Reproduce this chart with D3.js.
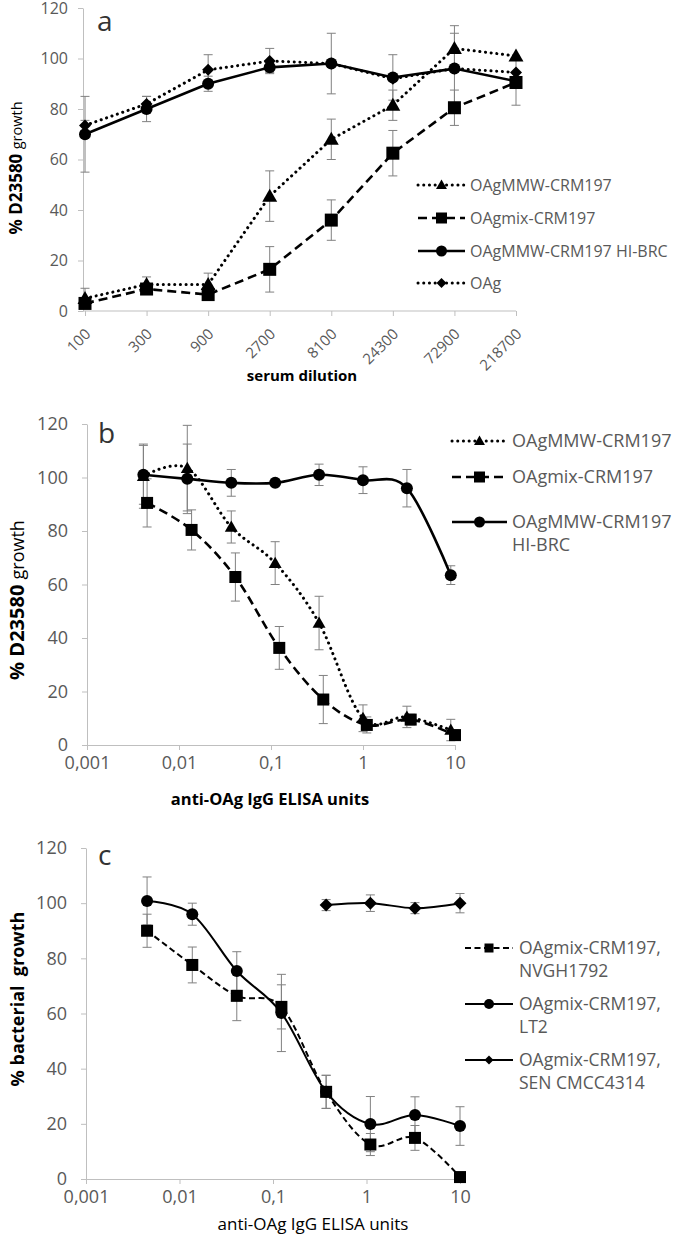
<!DOCTYPE html>
<html>
<head>
<meta charset="utf-8">
<script src="https://cdn.jsdelivr.net/npm/d3@7"></script>
<style>
  body { margin: 0; background: #fff; }
  svg { display: block; font-family: "Open Sans", sans-serif; }
</style>
</head>
<body>
<script>
// ---------- DATA ----------
// Panel a (serum dilution, categorical)
const dilutions = ["100", "300", "900", "2700", "8100", "24300", "72900", "218700"];
const aTri    = [5, 10.5, 10.5, 45.5, 68, 81.5, 104, 101];
const aTriErr = [4, 3, 4.5, 10, 8, 6, 9, 0];
const aSq     = [3, 8.7, 6.5, 16.5, 36, 62.5, 80.5, 90.5];
const aSqErr  = [2, 2, 2, 9, 8, 9, 7, 9];
const aCir    = [70, 80, 90, 96.5, 98, 92.5, 96, 91];
const aCirErr = [15, 5, 3, 2, 12, 9, 14, 0];
const aDia    = [73.5, 82, 95.5, 99, 98, 92, 96, 94.5];
const aDiaErr = [2, 3, 6, 5, 0, 0, 0, 0];

// Panel b (anti-OAg IgG ELISA units, log)
const bX      = [0.0041, 0.0123, 0.037, 0.111, 0.333, 1, 3, 9];
const bXsq    = [0.0045, 0.0137, 0.041, 0.123, 0.37, 1.1, 3.3, 10];
const bTri    = [100.5, 103.5, 81.5, 68, 45.6, 10, 10.5, 5.6];
const bTriErr = [12, 16, 6, 8, 10, 5, 4, 4];
const bSq     = [90.5, 80.4, 62.8, 36.3, 17, 7.5, 9.5, 3.7];
const bSqErr  = [9, 7.5, 9, 8, 9, 3, 2, 2];
const bCir    = [101, 99.5, 98, 98, 101, 99, 96, 63.5];
const bCirErr = [11, 13, 5, 1, 4, 5, 7, 3.5];

// Panel c
const cX      = [0.0045, 0.0137, 0.041, 0.123, 0.37, 1.1, 3.3, 10];
const cSq     = [90, 77.6, 66.4, 62.4, 31.6, 12.5, 14.9, 0.7];
const cSqErr  = [6, 6.5, 9, 8, 6, 4, 4.5, 1];
const cCir    = [100.8, 96, 75.4, 60.2, 31.6, 19.9, 23.2, 19.2];
const cCirErr = [8.7, 4, 7, 14, 6, 10, 6.6, 7];
const cDiaX   = [0.37, 1.1, 3.3, 10];
const cDia    = [99.3, 100, 98.2, 100];
const cDiaErr = [2, 3, 2, 3.5];

const yTicks = [0, 20, 40, 60, 80, 100, 120];
const logTicks = [0.001, 0.01, 0.1, 1, 10];
const logTickLabels = ["0,001", "0,01", "0,1", "1", "10"];

const legendA = ["OAgMMW-CRM197", "OAgmix-CRM197", "OAgMMW-CRM197 HI-BRC", "OAg"];
const legendB = [["OAgMMW-CRM197"], ["OAgmix-CRM197"], ["OAgMMW-CRM197", "HI-BRC"]];
const legendC = [["OAgmix-CRM197,", "NVGH1792"], ["OAgmix-CRM197,", "LT2"], ["OAgmix-CRM197,", "SEN CMCC4314"]];

// ---------- DRAWING ----------
const svg = d3.select("body").append("svg").attr("width", 680).attr("height", 1235);
const AXC = "#bfbfbf", TXT = "#595959", ERR = "#808080";

const styles = {
  dotted: { dash: "0.1 5.6", cap: "round", w: 3 },
  dashed: { dash: "9 5", cap: "butt", w: 2.6 },
  solid:  { dash: null, cap: "butt", w: 2.6 },
  dashedThin: { dash: "6 3.5", cap: "butt", w: 2 },
  solidThin: { dash: null, cap: "butt", w: 2 }
};

function marker(g, type, cx, cy, s) {
  if (type === "tri") {
    const path = d3.symbol(d3.symbolTriangle, s * s * 0.43)();
    g.append("path").attr("d", path).attr("transform", `translate(${cx},${cy + s * 0.08})`).attr("fill", "#000");
  } else if (type === "sq") {
    g.append("rect").attr("x", cx - s / 2).attr("y", cy - s / 2).attr("width", s).attr("height", s).attr("fill", "#000");
  } else if (type === "cir") {
    g.append("circle").attr("cx", cx).attr("cy", cy).attr("r", s / 2).attr("fill", "#000");
  } else if (type === "dia") {
    const h = s / 2;
    g.append("path").attr("d", `M${cx},${cy - h}L${cx + h},${cy}L${cx},${cy + h}L${cx - h},${cy}Z`).attr("fill", "#000");
  }
}

function applyStroke(sel, st) {
  sel.attr("fill", "none").attr("stroke", "#000").attr("stroke-width", st.w)
     .attr("stroke-linecap", st.cap);
  if (st.dash) sel.attr("stroke-dasharray", st.dash);
}

function drawSeries(g, xs, ys, errs, x, y, st, mtype, msize, smooth) {
  const pts = xs.map((xv, i) => ({ x: xv, y: ys[i], e: errs[i] }));
  const eg = g.append("g");
  pts.forEach(p => {
    if (!p.e) return;
    const px = x(p.x);
    eg.append("line").attr("x1", px).attr("x2", px).attr("y1", y(p.y - p.e)).attr("y2", y(p.y + p.e))
      .attr("stroke", ERR).attr("stroke-width", 1);
    [p.y - p.e, p.y + p.e].forEach(v => {
      eg.append("line").attr("x1", px - 4.5).attr("x2", px + 4.5).attr("y1", y(v)).attr("y2", y(v))
        .attr("stroke", ERR).attr("stroke-width", 1);
    });
  });
  const line = d3.line().x(d => x(d.x)).y(d => y(d.y))
    .curve(smooth ? d3.curveCardinal.tension(0) : d3.curveLinear);
  applyStroke(g.append("path").attr("d", line(pts)), st);
  return () => pts.forEach(p => marker(g, mtype, x(p.x), y(p.y), msize));
}

function yAxis(g, y, x0, fontSize, pad) {
  const ax = g.append("g").attr("transform", `translate(${x0},0)`)
    .call(d3.axisLeft(y).tickValues(yTicks).tickSize(5).tickSizeOuter(0).tickPadding(pad));
  ax.select(".domain").attr("stroke", AXC);
  ax.selectAll(".tick line").attr("stroke", AXC);
  ax.selectAll(".tick text").attr("fill", TXT).style("font-size", fontSize + "px").style("font-family", "Open Sans");
  return ax;
}

function legendLine(g, x1, x2, yy, st, mtype, msize) {
  applyStroke(g.append("line").attr("x1", x1).attr("x2", x2).attr("y1", yy).attr("y2", yy), st);
  marker(g, mtype, (x1 + x2) / 2, yy, msize);
}

// ===== Panel a =====
{
  const g = svg.append("g");
  const y = d3.scaleLinear().domain([0, 120]).range([311, 8]);
  const x = d3.scalePoint().domain(dilutions).range([85, 516]);
  yAxis(g, y, 83, 16, 10);
  const xa = g.append("g").attr("transform", "translate(0,311)")
    .call(d3.axisBottom(x).tickSize(5).tickSizeOuter(0));
  xa.select(".domain").attr("stroke", AXC).attr("d", "M83,0H516");
  xa.selectAll(".tick line").attr("stroke", AXC);
  xa.selectAll(".tick text").attr("fill", TXT).style("font-size", "15px").style("font-family", "Open Sans")
    .attr("x", 0).attr("y", 0).attr("dy", 0).attr("text-anchor", "end")
    .attr("transform", "translate(6,24) rotate(-45)");

  const m1 = drawSeries(g, dilutions, aDia, aDiaErr, x, y, styles.dotted, "dia", 12, false);
  const m2 = drawSeries(g, dilutions, aCir, aCirErr, x, y, styles.solid, "cir", 12, false);
  const m3 = drawSeries(g, dilutions, aSq, aSqErr, x, y, styles.dashed, "sq", 13, false);
  const m4 = drawSeries(g, dilutions, aTri, aTriErr, x, y, styles.dotted, "tri", 15, false);
  m1(); m2(); m3(); m4();

  g.append("text").attr("x", 97).attr("y", 31).text("a").attr("fill", "#333").style("font-size", "28px");
  g.append("text").attr("x", 302).attr("y", 381).attr("text-anchor", "middle")
    .style("font-size", "15px").style("font-weight", "bold").attr("fill", "#000").text("serum dilution");
  const t = g.append("text").attr("transform", "translate(22,168) rotate(-90)").attr("text-anchor", "middle").attr("fill", "#000");
  t.append("tspan").style("font-size", "17px").style("font-weight", "bold").text("% D23580 ");
  t.append("tspan").style("font-size", "14.5px").text("growth");

  const types = [["dotted", "tri", 11], ["dashed", "sq", 11], ["solid", "cir", 11], ["dotted", "dia", 10]];
  const ys = [185, 218, 251, 283];
  legendA.forEach((name, i) => {
    legendLine(g, 418, 465, ys[i], styles[types[i][0]], types[i][1], types[i][2]);
    g.append("text").attr("x", 470).attr("y", ys[i]).attr("dy", "0.35em").attr("fill", TXT)
      .style("font-size", "16px").text(name);
  });
}

// ===== Panel b =====
{
  const g = svg.append("g");
  const y = d3.scaleLinear().domain([0, 120]).range([745, 424]);
  const x = d3.scaleLog().domain([0.001, 10]).range([87, 455]);
  yAxis(g, y, 87, 18, 14);
  const xa = g.append("g").attr("transform", "translate(0,745)")
    .call(d3.axisBottom(x).tickValues(logTicks).tickFormat((d, i) => logTickLabels[i]).tickSize(5).tickSizeOuter(0).tickPadding(6));
  xa.select(".domain").attr("stroke", AXC);
  xa.selectAll(".tick line").attr("stroke", AXC);
  xa.selectAll(".tick text").attr("fill", TXT).style("font-size", "18px").style("font-family", "Open Sans");

  const m1 = drawSeries(g, bX, bCir, bCirErr, x, y, styles.solid, "cir", 12, true);
  const m2 = drawSeries(g, bXsq, bSq, bSqErr, x, y, styles.dashed, "sq", 12, true);
  const m3 = drawSeries(g, bX, bTri, bTriErr, x, y, styles.dotted, "tri", 13, true);
  m1(); m2(); m3();

  g.append("text").attr("x", 98).attr("y", 443).text("b").attr("fill", "#333").style("font-size", "28px");
  g.append("text").attr("x", 270).attr("y", 805).attr("text-anchor", "middle")
    .style("font-size", "16.5px").style("font-weight", "bold").attr("fill", "#000").text("anti-OAg IgG ELISA units");
  const t = g.append("text").attr("transform", "translate(24,600) rotate(-90)").attr("text-anchor", "middle").attr("fill", "#000");
  t.append("tspan").style("font-size", "20px").style("font-weight", "bold").text("% D23580 ");
  t.append("tspan").style("font-size", "18px").text("growth");

  const types = [["dotted", "tri", 11], ["dashed", "sq", 11], ["solid", "cir", 11]];
  const ys = [441, 477, 522];
  legendB.forEach((lines, i) => {
    legendLine(g, 452, 507, ys[i], styles[types[i][0]], types[i][1], types[i][2]);
    const tx = g.append("text").attr("x", 512).attr("y", ys[i]).attr("fill", TXT).style("font-size", "18px");
    lines.forEach((l, j) => tx.append("tspan").attr("x", 512).attr("dy", j === 0 ? "0.35em" : "1.28em").text(l));
  });
}

// ===== Panel c =====
{
  const g = svg.append("g");
  const y = d3.scaleLinear().domain([0, 120]).range([1179, 848]);
  const x = d3.scaleLog().domain([0.001, 10]).range([86, 460]);
  yAxis(g, y, 86, 18, 14);
  const xa = g.append("g").attr("transform", "translate(0,1179)")
    .call(d3.axisBottom(x).tickValues(logTicks).tickFormat((d, i) => logTickLabels[i]).tickSize(5).tickSizeOuter(0).tickPadding(6));
  xa.select(".domain").attr("stroke", AXC);
  xa.selectAll(".tick line").attr("stroke", AXC);
  xa.selectAll(".tick text").attr("fill", TXT).style("font-size", "18px").style("font-family", "Open Sans");

  const m1 = drawSeries(g, cX, cCir, cCirErr, x, y, styles.solidThin, "cir", 12, true);
  const m2 = drawSeries(g, cX, cSq, cSqErr, x, y, styles.dashedThin, "sq", 12, true);
  const m3 = drawSeries(g, cDiaX, cDia, cDiaErr, x, y, styles.solidThin, "dia", 13, true);
  m1(); m2(); m3();

  g.append("text").attr("x", 98).attr("y", 865).text("c").attr("fill", "#333").style("font-size", "28px");
  g.append("text").attr("x", 313).attr("y", 1230).attr("text-anchor", "middle")
    .style("font-size", "17px").attr("fill", "#000").text("anti-OAg IgG ELISA units");
  g.append("text").attr("transform", "translate(24,999) rotate(-90)").attr("text-anchor", "middle").attr("fill", "#000")
    .style("font-size", "18px").style("font-weight", "bold").style("white-space", "pre").text("% bacterial  growth");

  const types = [["dashedThin", "sq", 9], ["solidThin", "cir", 10], ["solidThin", "dia", 9]];
  const ys = [948, 1004, 1060];
  legendC.forEach((lines, i) => {
    legendLine(g, 465, 513, ys[i], styles[types[i][0]], types[i][1], types[i][2]);
    const tx = g.append("text").attr("x", 519).attr("y", ys[i]).attr("fill", TXT).style("font-size", "17.5px");
    lines.forEach((l, j) => tx.append("tspan").attr("x", 519).attr("dy", j === 0 ? "0.35em" : "1.33em").text(l));
  });
}
</script>
</body>
</html>
